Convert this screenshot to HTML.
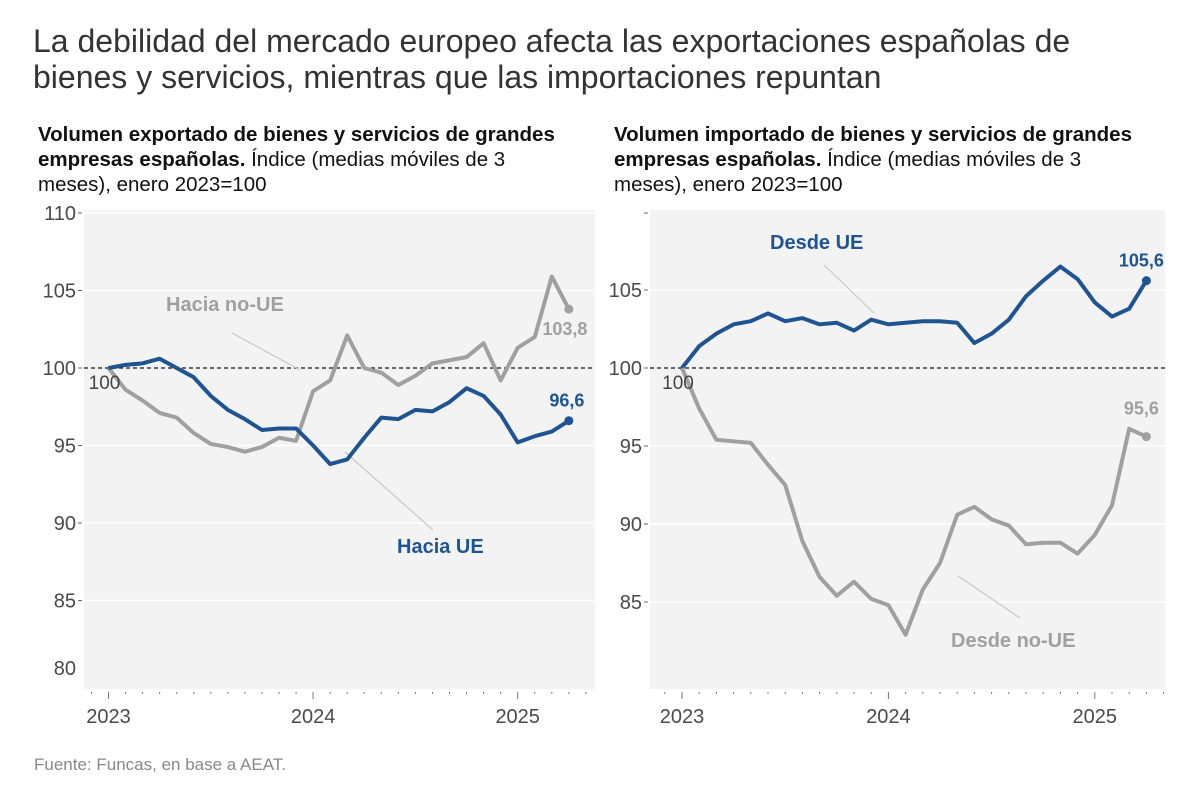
<!DOCTYPE html>
<html><head><meta charset="utf-8">
<style>
body{margin:0;background:#fff;font-family:"Liberation Sans",Arial,sans-serif;}
#wrap{position:relative;width:1200px;height:804px;overflow:hidden;}
.title{position:absolute;left:33px;top:23px;font-size:32px;line-height:36px;color:#333;white-space:nowrap;}
.sub{position:absolute;top:122px;font-size:20.5px;line-height:25px;color:#111;width:528px;}
.sub b{font-weight:bold;}
.src{position:absolute;left:34px;top:755px;font-size:17px;color:#888;}
svg{position:absolute;left:0;top:0;}
</style></head><body>
<div id="wrap">
<div class="title">La debilidad del mercado europeo afecta las exportaciones españolas de<br>bienes y servicios, mientras que las importaciones repuntan</div>
<div class="sub" style="left:38px"><b>Volumen exportado de bienes y servicios de grandes empresas españolas.</b> Índice (medias móviles de 3 meses), enero 2023=100</div>
<div class="sub" style="left:614px"><b>Volumen importado de bienes y servicios de grandes empresas españolas.</b> Índice (medias móviles de 3 meses), enero 2023=100</div>
<div class="src">Fuente: Funcas, en base a AEAT.</div>
<svg id="svg" width="1200" height="804"></svg>
</div>
<script>
const months = 28;
const yearLabels = ["2023","2024","2025"];
const exportUE = [100,100.2,100.3,100.6,100.0,99.4,98.2,97.3,96.7,96.0,96.1,96.1,95.0,93.8,94.1,95.5,96.8,96.7,97.3,97.2,97.8,98.7,98.2,97.0,95.2,95.6,95.9,96.6];
const exportNoUE = [100,98.6,97.9,97.1,96.8,95.8,95.1,94.9,94.6,94.9,95.5,95.3,98.5,99.2,102.1,100.0,99.7,98.9,99.5,100.3,100.5,100.7,101.6,99.2,101.3,102.0,105.9,103.8];
const importUE = [100,101.4,102.2,102.8,103.0,103.5,103.0,103.2,102.8,102.9,102.4,103.1,102.8,102.9,103.0,103.0,102.9,101.6,102.2,103.1,104.6,105.6,106.5,105.7,104.2,103.3,103.8,105.6];
const importNoUE = [100,97.4,95.4,95.3,95.2,93.8,92.5,88.9,86.6,85.4,86.3,85.2,84.8,82.9,85.8,87.5,90.6,91.1,90.3,89.9,88.7,88.8,88.8,88.1,89.3,91.2,96.1,95.6];
const leftTicks = [80,85,90,95,100,105,110];
const rightTicks = [85,90,95,100,105];
const lastLabelsL = ["96,6","103,8"];
const lastLabelsR = ["105,6","95,6"];

const NS="http://www.w3.org/2000/svg";
const svg=document.getElementById('svg');
function mk(tag,attrs,parent){const e=document.createElementNS(NS,tag);for(const k in attrs)e.setAttribute(k,attrs[k]);(parent||svg).appendChild(e);return e;}
const BLUE="#1f5493", GREY="#a0a0a0";

function panel(o){
  const g=mk('g',{});
  
  
  const x=k=>o.x0+k*o.step;
  const y=v=>o.y100-(v-100)*o.ppu;
  const bg=mk('rect',{x:o.bx0,y:210,width:o.bx1-o.bx0,height:689-210,fill:'#f3f3f3'},g);
  
  
  o.ticks.forEach(t=>{
    const yy=y(t);
    if(t!==100 && t!==80){const l=mk('line',{x1:o.bx0,x2:o.bx1,y1:yy,y2:yy,stroke:'#fff','stroke-width':1.5},g);
      
      }
    if(t!==80) mk('line',{x1:o.bx0-6,x2:o.bx0-2,y1:yy,y2:yy,stroke:'#666','stroke-width':1},g);
    const tx=mk('text',{x:o.bx0-8,y:yy+(t===80?-3:7),'text-anchor':'end','font-size':20,fill:'#4a4a4a'},g);
    tx.textContent=t;
    
    
  });
  mk('line',{x1:o.bx0-6,x2:o.bx0-2,y1:213,y2:213,stroke:'#666'},g);
  const zl=mk('line',{x1:o.bx0,x2:o.bx1,y1:y(100),y2:y(100),stroke:'#111','stroke-width':1.2,'stroke-dasharray':'4,3'},g);
  
  
  for(let k=-1;k<months+2;k++){const xx=x(k); if(xx<o.bx0||xx>o.bx1)continue;
    mk('line',{x1:xx,x2:xx,y1:692,y2:k%12===0?699:694,stroke:'#777','stroke-width':1},g);}
  yearLabels.forEach((lab,i)=>{const t=mk('text',{x:x(i*12),y:723,'text-anchor':'middle','font-size':20,fill:'#4a4a4a'},g);t.textContent=lab;
    
    });
  o.leaders.forEach(l=>mk('line',{x1:l[0],y1:l[1],x2:l[2],y2:l[3],stroke:'#c8c8c8','stroke-width':1.2},g));
  o.series.forEach(s=>{
    const p=mk('polyline',{points:s.data.map((v,k)=>x(k)+','+y(v)).join(' '),fill:'none',stroke:s.color,'stroke-width':4,'stroke-linejoin':'round'},g);
    
    
    const n=s.data.length-1;
    const c=mk('circle',{cx:x(n),cy:y(s.data[n]),r:4.5,fill:s.color},g);
    
    
    const t=mk('text',{x:x(n)+s.lx,y:y(s.data[n])+s.ly,'text-anchor':'middle','font-size':18,'font-weight':'bold',fill:s.color},g);
    t.textContent=s.last;
    
    
  });
  const t100=mk('text',{x:x(0)-4,y:y(100)+21,'text-anchor':'middle','font-size':19,fill:'#444'},g);t100.textContent='100';
  
  
  o.labels.forEach(l=>{const t=mk('text',{x:l.x,y:l.y,'font-size':20,'font-weight':'bold',fill:l.c},g);t.textContent=l.t;
    
    });
}
panel({name:'exports-panel',x0:108.5,step:17.05,y100:368,ppu:15.5,bx0:84,bx1:595,ticks:leftTicks,
  series:[{name:'hacia-no-ue-line',data:exportNoUE,color:GREY,last:lastLabelsL[1],lx:-4,ly:26},
          {name:'hacia-ue-line',data:exportUE,color:BLUE,last:lastLabelsL[0],lx:-2,ly:-14}],
  leaders:[[232,333,300,370],[345,452,433,530]],
  labels:[{x:166,y:311,t:'Hacia no-UE',c:GREY},{x:397,y:553,t:'Hacia UE',c:BLUE}]});
panel({name:'imports-panel',x0:682,step:17.2,y100:368,ppu:15.6,bx0:650,bx1:1165,ticks:rightTicks,
  series:[{name:'desde-ue-line',data:importUE,color:BLUE,last:lastLabelsR[0],lx:-5,ly:-14},
          {name:'desde-no-ue-line',data:importNoUE,color:GREY,last:lastLabelsR[1],lx:-5,ly:-22}],
  leaders:[[824,265,874,313],[958,576,1020,618]],
  labels:[{x:770,y:249,t:'Desde UE',c:BLUE},{x:951,y:647,t:'Desde no-UE',c:GREY}]});
</script>
</body></html>
